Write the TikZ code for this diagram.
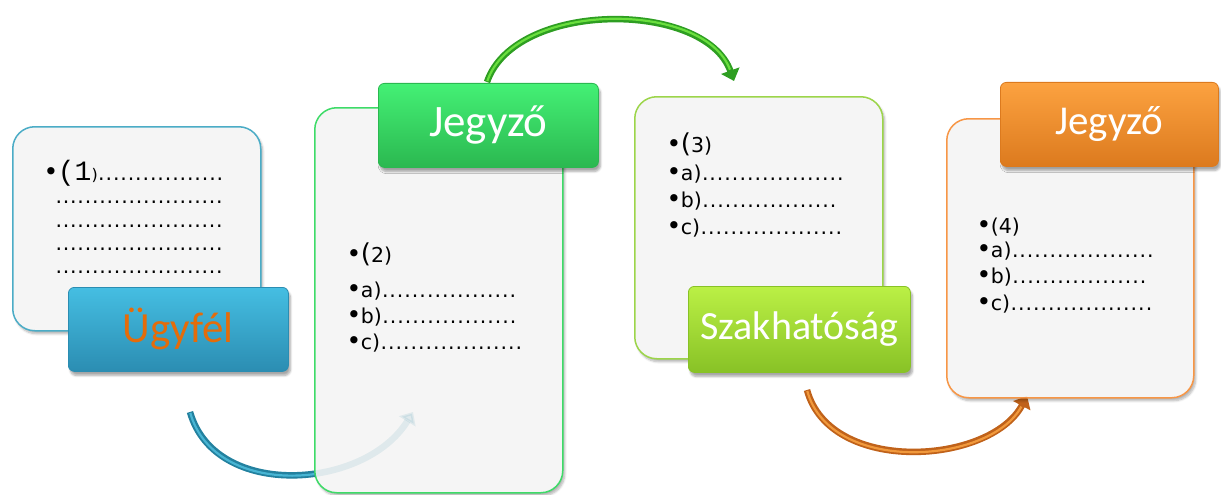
\documentclass[tikz,border=0pt]{standalone}
\usepackage{fontspec}
\setmainfont{DejaVu Sans}
\newfontfamily\labfont{Carlito}
\newfontfamily\monofnt{Liberation Mono}
\usetikzlibrary{arrows.meta,shadows.blur}
\definecolor{boxfill}{HTML}{F5F5F5}
\definecolor{cblue}{HTML}{4BACC6}
\definecolor{cgreen}{HTML}{3EDB68}
\definecolor{clime}{HTML}{9CD54A}
\definecolor{corange}{HTML}{F79646}
\definecolor{lblueT}{HTML}{45BEE2}
\definecolor{lblueM}{HTML}{36AAD0}
\definecolor{lblueB}{HTML}{2B8DB2}
\definecolor{lgreenT}{HTML}{44F075}
\definecolor{lgreenM}{HTML}{36DC60}
\definecolor{lgreenB}{HTML}{2BB850}
\definecolor{llimeT}{HTML}{BBF045}
\definecolor{llimeM}{HTML}{A8E232}
\definecolor{llimeB}{HTML}{88C226}
\definecolor{lorT}{HTML}{FCA240}
\definecolor{lorM}{HTML}{F59232}
\definecolor{lorB}{HTML}{DC7A1E}
\definecolor{ugytext}{HTML}{E46C0A}
\definecolor{ablueD}{HTML}{23819F}
\definecolor{ablueL}{HTML}{4DBBDA}
\definecolor{agreenD}{HTML}{2E9E22}
\definecolor{agreenL}{HTML}{6ADF3E}
\definecolor{aorD}{HTML}{C0621A}
\definecolor{aorL}{HTML}{F7A040}
\newcount\dotcnt
\newcommand\dotrow[2][7.4pt]{\dotcnt=0\relax\loop\ifnum\dotcnt<#2\relax\makebox[#1][c]{.}\advance\dotcnt by 1\relax\repeat}
\newcommand\bul{\kern-1.5pt\smash{{\fontsize{25}{28}\selectfont\raisebox{-0.5pt}{•}}}\kern-0.5pt}
\tikzset{
  card/.style={rounded corners=22pt, fill=boxfill, line width=1.5pt, anchor=north west, inner sep=0pt,
    blur shadow={shadow blur steps=6, shadow xshift=2pt, shadow yshift=-3pt, shadow opacity=30}},
  lab/.style={rounded corners=6pt, anchor=north west, inner sep=0pt, minimum width=220pt, minimum height=84pt,
    font=\labfont\fontsize{43}{50}\selectfont, text=white, line width=0.8pt,
    blur shadow={shadow blur steps=6, shadow xshift=2pt, shadow yshift=-4pt, shadow opacity=35}},
  txt/.style={anchor=base west, inner sep=0pt, font=\fontsize{20.5}{24}\selectfont, text=black},
  arrdark/.style={line width=6.5pt, -{Triangle[length=11pt,width=19pt]}},
  arrlight/.style={line width=2.2pt, shorten >=12pt, shorten <=1pt},
  ghost/.style={opacity=0.10},
}
\begin{document}
\begin{tikzpicture}[x=1pt,y=-1pt]
\useasboundingbox (0,0) rectangle (1221,495);
% arrow end points
\coordinate (a1s) at (190,412); \coordinate (a1e) at (413,412);
\coordinate (a2s) at (487,82);  \coordinate (a2e) at (734,81);
\coordinate (a3s) at (807,390); \coordinate (a3e) at (1027,396);
% arrows (behind the cards)
\draw[arrdark, ablueD] (a1s) .. controls (215,500) and (365,490) .. (a1e);
\draw[arrlight, ablueL] (a1s) .. controls (215,500) and (365,490) .. (a1e);
\draw[arrdark, agreenD] (a2s) .. controls (515,0) and (705,0) .. (a2e);
\draw[arrlight, agreenL] (a2s) .. controls (515,0) and (705,0) .. (a2e);
\draw[arrdark, aorD] (a3s) .. controls (830,475) and (990,465) .. (a3e);
\draw[arrlight, aorL] (a3s) .. controls (830,475) and (990,465) .. (a3e);
% cards
\node[card, draw=cblue, minimum width=248pt, minimum height=204pt] (b1) at (12,126) {};
\node[card, draw=cgreen, minimum width=248pt, minimum height=385pt] (b2) at (314,107) {};
\node[card, draw=clime, minimum width=248pt, minimum height=262pt] (b3) at (634,96) {};
\node[card, draw=corange, minimum width=247pt, minimum height=279pt] (b4) at (946,118) {};
% faint see-through parts of the arrows
\draw[arrdark, ablueD, ghost] (a1s) .. controls (215,500) and (365,490) .. (a1e);
\draw[arrdark, aorD, ghost] (a3s) .. controls (830,475) and (990,465) .. (a3e);
% labels
\node[lab, top color=lblueT, middle color=lblueM, bottom color=lblueB, draw=lblueB, text=ugytext] (l1) at (68,287) {Ügyfél};
\node[lab, top color=lgreenT, middle color=lgreenM, bottom color=lgreenB, draw=lgreenB, font=\labfont\fontsize{45}{50}\selectfont] (l2) at (378,83) {Jegyző};
\node[lab, top color=llimeT, middle color=llimeM, bottom color=llimeB, draw=llimeB, minimum width=222pt, minimum height=86pt, font=\labfont\fontsize{40}{48}\selectfont] (l3) at (688,286) {Szakhatóság};
\node[lab, top color=lorT, middle color=lorM, bottom color=lorB, draw=lorB, minimum width=218pt, font=\labfont\fontsize{41}{48}\selectfont] (l4) at (1000,82) {Jegyző};
% texts box 1
\node[txt] (t11) at (45,180) {\bul{\monofnt\fontsize{28}{30}\selectfont(1}{\fontsize{16}{20}\selectfont)}\dotrow{17}};
\node[txt] (t12) at (55,203) {\dotrow[7.3pt]{23}};
\node[txt] (t13) at (55,227) {\dotrow[7.3pt]{23}};
\node[txt] (t14) at (55,250) {\dotrow[7.3pt]{23}};
\node[txt] (t15) at (55,273) {\dotrow[7.3pt]{23}};
% texts box 2
\node[txt] (t21) at (348,262) {\bul{\fontsize{26}{28}\selectfont(}2)};
\node[txt] (t22) at (348,297) {\bul a)\dotrow[7.5pt]{18}};
\node[txt] (t23) at (348,323) {\bul b)\dotrow[7.5pt]{18}};
\node[txt] (t24) at (348,349) {\bul c)\dotrow[7.5pt]{19}};
% texts box 3
\node[txt] (t31) at (668,152) {\bul{\fontsize{26}{28}\selectfont(}3)};
\node[txt] (t32) at (668,180) {\bul a)\dotrow[7.5pt]{19}};
\node[txt] (t33) at (668,207) {\bul b)\dotrow[7.5pt]{18}};
\node[txt] (t34) at (668,234) {\bul c)\dotrow[7.5pt]{19}};
% texts box 4
\node[txt] (t41) at (978,233) {\bul(4)};
\node[txt] (t42) at (978,257) {\bul a)\dotrow[7.5pt]{19}};
\node[txt] (t43) at (978,283) {\bul b)\dotrow[7.5pt]{18}};
\node[txt] (t44) at (978,310) {\bul c)\dotrow[7.5pt]{19}};
\end{tikzpicture}
\end{document}
